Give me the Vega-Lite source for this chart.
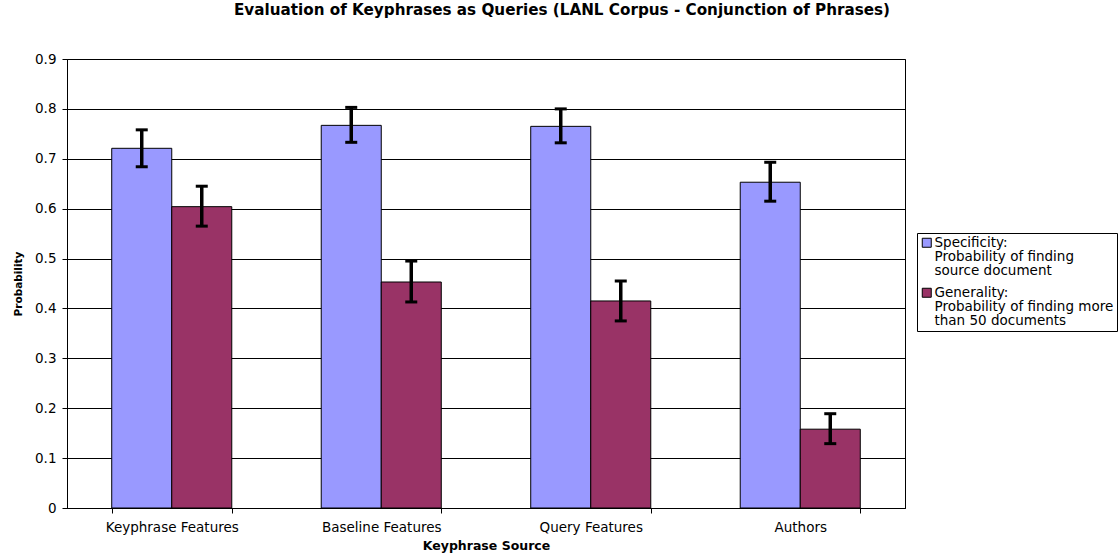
{
  "$schema": "https://vega.github.io/schema/vega-lite/v6.json",
  "width": 838,
  "height": 449,
  "autosize": "none",
  "padding": {"left": 67, "top": 59, "right": 213, "bottom": 50},
  "background": "white",
  "title": {
    "text": "Evaluation of Keyphrases as Queries (LANL Corpus - Conjunction of Phrases)",
    "font": "DejaVu Sans",
    "fontSize": 15.2,
    "fontWeight": "bold",
    "color": "black",
    "anchor": "middle",
    "dx": 76,
    "offset": 34
  },
  "config": {
    "view": {"stroke": "black", "strokeWidth": 1},
    "axis": {
      "labelFont": "DejaVu Sans",
      "titleFont": "DejaVu Sans",
      "labelColor": "black",
      "titleColor": "black",
      "domainColor": "black",
      "tickColor": "black",
      "gridColor": "black",
      "gridOpacity": 1,
      "labelFontSize": 13.5,
      "titleFontSize": 12.5,
      "titleFontWeight": "bold"
    },
    "legend": {
      "labelFont": "DejaVu Sans",
      "labelFontSize": 13.5,
      "labelColor": "black"
    }
  },
  "data": {
    "values": [
      {"source": "Keyphrase Features", "series": "Specificity:|Probability of finding|source document", "value": 0.721, "lo": 0.684, "hi": 0.758},
      {"source": "Keyphrase Features", "series": "Generality:|Probability of finding more|than 50 documents", "value": 0.604, "lo": 0.565, "hi": 0.645},
      {"source": "Baseline Features", "series": "Specificity:|Probability of finding|source document", "value": 0.767, "lo": 0.733, "hi": 0.803},
      {"source": "Baseline Features", "series": "Generality:|Probability of finding more|than 50 documents", "value": 0.453, "lo": 0.413, "hi": 0.495},
      {"source": "Query Features", "series": "Specificity:|Probability of finding|source document", "value": 0.765, "lo": 0.732, "hi": 0.800},
      {"source": "Query Features", "series": "Generality:|Probability of finding more|than 50 documents", "value": 0.415, "lo": 0.375, "hi": 0.455},
      {"source": "Authors", "series": "Specificity:|Probability of finding|source document", "value": 0.653, "lo": 0.615, "hi": 0.693},
      {"source": "Authors", "series": "Generality:|Probability of finding more|than 50 documents", "value": 0.158, "lo": 0.129, "hi": 0.189}
    ]
  },
  "encoding": {
    "x": {
      "field": "source",
      "type": "nominal",
      "sort": ["Keyphrase Features", "Baseline Features", "Query Features", "Authors"],
      "scale": {"paddingInner": 0.427, "paddingOuter": 0.2135},
      "axis": {
        "title": "Keyphrase Source",
        "labelAngle": 0,
        "tickBand": "extent",
        "tickSize": 5,
        "labelPadding": 7,
        "titlePadding": 6,
        "grid": false
      }
    },
    "xOffset": {
      "field": "series",
      "type": "nominal",
      "sort": ["Specificity:|Probability of finding|source document", "Generality:|Probability of finding more|than 50 documents"]
    }
  },
  "layer": [
    {
      "mark": {"type": "bar", "stroke": "black", "strokeWidth": 1},
      "encoding": {
        "y": {
          "field": "value",
          "type": "quantitative",
          "scale": {"domain": [0, 0.9], "nice": false},
          "axis": {
            "title": "Probability",
            "titleFontSize": 10.5,
            "values": [0, 0.1, 0.2, 0.3, 0.4, 0.5, 0.6, 0.7, 0.8, 0.9],
            "format": ".1~f",
            "tickSize": 5,
            "labelPadding": 6,
            "titlePadding": 11,
            "grid": true
          }
        },
        "color": {
          "field": "series",
          "type": "nominal",
          "sort": ["Specificity:|Probability of finding|source document", "Generality:|Probability of finding more|than 50 documents"],
          "scale": {"range": ["#9999FF", "#993366"]},
          "legend": {
            "title": null,
            "orient": "none",
            "legendX": 850,
            "legendY": 174,
            "strokeColor": "black",
            "padding": 3,
            "symbolType": "square",
            "symbolSize": 81,
            "symbolStrokeColor": "black",
            "symbolStrokeWidth": 1,
            "labelOffset": 1,
            "labelExpr": "split(datum.label, '|')",
            "labelLimit": 300,
            "rowPadding": 7,
            "encode": {
              "labels": {"update": {"lineHeight": {"value": 14}}}
            }
          }
        }
      }
    },
    {
      "mark": {"type": "rule", "strokeWidth": 3.5, "color": "black"},
      "encoding": {
        "y": {"field": "lo", "type": "quantitative"},
        "y2": {"field": "hi"}
      }
    },
    {
      "mark": {"type": "tick", "orient": "horizontal", "thickness": 3, "size": 12, "color": "black", "opacity": 1},
      "encoding": {
        "y": {"field": "lo", "type": "quantitative"}
      }
    },
    {
      "mark": {"type": "tick", "orient": "horizontal", "thickness": 3, "size": 12, "color": "black", "opacity": 1},
      "encoding": {
        "y": {"field": "hi", "type": "quantitative"}
      }
    }
  ]
}
